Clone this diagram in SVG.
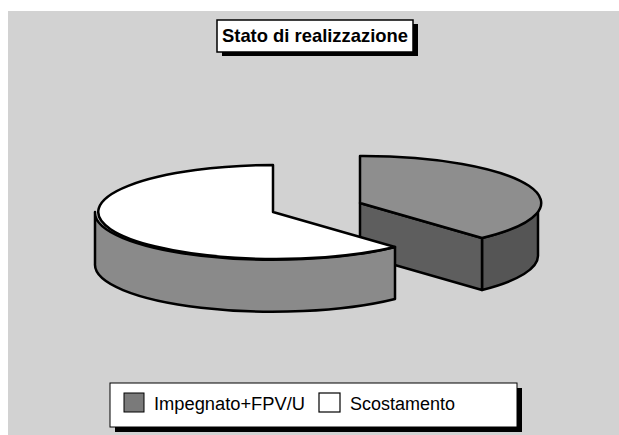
<svg xmlns="http://www.w3.org/2000/svg" width="619" height="435" viewBox="0 0 619 435">
<style>
.lbl{font-family:"Liberation Sans",Arial,sans-serif;fill:#000}
.edge{stroke:#000;stroke-width:2.5;stroke-linejoin:round}
</style>
<rect x="0" y="0" width="619" height="435" fill="#ffffff"/>
<rect x="8" y="11" width="611" height="424" fill="#d2d2d2"/>
<g id="title">
<rect x="222" y="24" width="196" height="32" fill="#000"/>
<rect x="217" y="20" width="196" height="32" fill="#fff" stroke="#000" stroke-width="1.5"/>
<text class="lbl" x="222" y="42" font-size="18.5" font-weight="bold" textLength="186" lengthAdjust="spacingAndGlyphs">Stato di realizzazione</text>
</g>
<g id="slice-impegnato">
<path class="edge" d="M538,203 A178,47 0 0,1 482,238 L482,290 A178,47 0 0,0 538,255 Z" fill="#555"/>
<path class="edge" d="M360,203 L482,238 L482,290 L360,255 Z" fill="#5e5e5e"/>
<path class="edge" d="M360,203 L360,156 A178,47 0 0,1 482,238 Z" fill="#8e8e8e"/>
</g>
<g id="slice-scostamento">
<path class="edge" d="M395,247 A178,47 0 0,1 95,212 L95,264 A178,47 0 0,0 395,299 Z" fill="#8a8a8a"/>
<path class="edge" d="M273,212 L395,247 A178,47 0 1,1 273,165 Z" fill="#fff"/>
</g>
<g id="legend">
<rect x="115" y="388" width="407" height="44" fill="#000"/>
<rect x="110" y="383" width="407" height="44" fill="#fff" stroke="#000" stroke-width="1"/>
<rect x="124" y="393" width="20" height="19" fill="#7a7a7a" stroke="#000" stroke-width="1"/>
<text class="lbl" x="154" y="410" font-size="18" textLength="151" lengthAdjust="spacingAndGlyphs">Impegnato+FPV/U</text>
<rect x="319" y="393" width="21" height="19" fill="#fff" stroke="#000" stroke-width="1.2"/>
<text class="lbl" x="350" y="410" font-size="18" textLength="105" lengthAdjust="spacingAndGlyphs">Scostamento</text>
</g>
</svg>
